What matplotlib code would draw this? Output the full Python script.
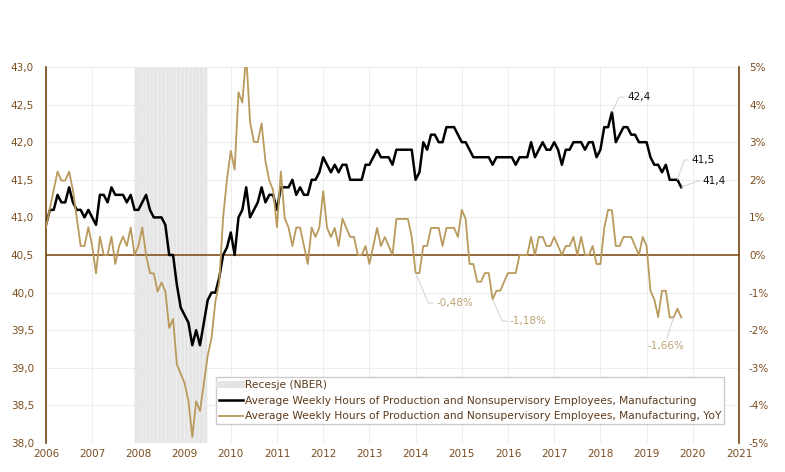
import matplotlib

matplotlib.use("Agg")

import matplotlib.pyplot as plt  # noqa: E402
import numpy as np  # noqa: E402
from matplotlib.lines import Line2D  # noqa: E402
from matplotlib.ticker import FuncFormatter  # noqa: E402

# monthly data, Jan 2006 .. Oct 2019
START_YEAR = 2006
hours = [
    40.9, 41.1, 41.1, 41.3, 41.2, 41.2, 41.4, 41.2, 41.1, 41.1, 41.0, 41.1,  # 2006
    41.0, 40.9, 41.3, 41.3, 41.2, 41.4, 41.3, 41.3, 41.3, 41.2, 41.3, 41.1,  # 2007
    41.1, 41.2, 41.3, 41.1, 41.0, 41.0, 41.0, 40.9, 40.5, 40.5, 40.1, 39.8,  # 2008
    39.7, 39.6, 39.3, 39.5, 39.3, 39.6, 39.9, 40.0, 40.0, 40.2, 40.5, 40.6,  # 2009
    40.8, 40.5, 41.0, 41.1, 41.4, 41.0, 41.1, 41.2, 41.4, 41.2, 41.3, 41.3,  # 2010
    41.1, 41.4, 41.4, 41.4, 41.5, 41.3, 41.4, 41.3, 41.3, 41.5, 41.5, 41.6,  # 2011
    41.8, 41.7, 41.6, 41.7, 41.6, 41.7, 41.7, 41.5, 41.5, 41.5, 41.5, 41.7,  # 2012
    41.7, 41.8, 41.9, 41.8, 41.8, 41.8, 41.7, 41.9, 41.9, 41.9, 41.9, 41.9,  # 2013
    41.5, 41.6, 42.0, 41.9, 42.1, 42.1, 42.0, 42.0, 42.2, 42.2, 42.2, 42.1,  # 2014
    42.0, 42.0, 41.9, 41.8, 41.8, 41.8, 41.8, 41.8, 41.7, 41.8, 41.8, 41.8,  # 2015
    41.8, 41.8, 41.7, 41.8, 41.8, 41.8, 42.0, 41.8, 41.9, 42.0, 41.9, 41.9,  # 2016
    42.0, 41.9, 41.7, 41.9, 41.9, 42.0, 42.0, 42.0, 41.9, 42.0, 42.0, 41.8,  # 2017
    41.9, 42.2, 42.2, 42.4, 42.0, 42.1, 42.2, 42.2, 42.1, 42.1, 42.0, 42.0,  # 2018
    42.0, 41.8, 41.7, 41.7, 41.6, 41.7, 41.5, 41.5, 41.5, 41.4,              # 2019
]
yoy = [
    0.74, 1.23, 1.72, 2.22, 1.98, 1.98, 2.22, 1.72, 0.98, 0.24, 0.24, 0.74,
    0.24, -0.49, 0.49, 0.00, 0.00, 0.49, -0.24, 0.24, 0.49, 0.24, 0.73, 0.00,
    0.24, 0.73, 0.00, -0.48, -0.49, -0.97, -0.73, -0.97, -1.94, -1.70, -2.91, -3.16,
    -3.41, -3.88, -4.84, -3.89, -4.15, -3.41, -2.68, -2.20, -1.23, -0.74, 1.00, 2.01,
    2.77, 2.27, 4.33, 4.05, 5.34, 3.54, 3.01, 3.00, 3.50, 2.49, 1.98, 1.72,
    0.74, 2.22, 0.98, 0.73, 0.24, 0.73, 0.73, 0.24, -0.24, 0.73, 0.48, 0.73,
    1.70, 0.72, 0.48, 0.72, 0.24, 0.97, 0.72, 0.48, 0.48, 0.00, 0.00, 0.24,
    -0.24, 0.24, 0.72, 0.24, 0.48, 0.24, 0.00, 0.96, 0.96, 0.96, 0.96, 0.48,
    -0.48, -0.48, 0.24, 0.24, 0.72, 0.72, 0.72, 0.24, 0.72, 0.72, 0.72, 0.48,
    1.20, 0.96, -0.24, -0.24, -0.71, -0.71, -0.48, -0.48, -1.18, -0.95, -0.95, -0.71,
    -0.48, -0.48, -0.48, 0.00, 0.00, 0.00, 0.48, 0.00, 0.48, 0.48, 0.24, 0.24,
    0.48, 0.24, 0.00, 0.24, 0.24, 0.48, 0.00, 0.48, 0.00, 0.00, 0.24, -0.24,
    -0.24, 0.72, 1.20, 1.19, 0.24, 0.24, 0.48, 0.48, 0.48, 0.24, 0.00, 0.48,
    0.24, -0.95, -1.18, -1.65, -0.95, -0.95, -1.66, -1.66, -1.43, -1.66,
]
recession_start = 2007 + 11 / 12  # Dec 2007
recession_months = 19             # .. Jun 2009
year_ticks = list(range(2006, 2022))
hours_ticks = [38.0, 38.5, 39.0, 39.5, 40.0, 40.5, 41.0, 41.5, 42.0, 42.5, 43.0]
pct_ticks = [-5, -4, -3, -2, -1, 0, 1, 2, 3, 4, 5]

label_hours = "Average Weekly Hours of Production and Nonsupervisory Employees, Manufacturing"
label_yoy = label_hours + ", YoY"

BROWN = "#7a4310"
TICK = "#7c4d1f"
TEXT = "#5c3a1c"
GOLD = "#b99a5c"
GOLD_TEXT = "#bda474"
GRID = "#ededed"
LEADER = "#d2d2d2"
FS = 7.5

months = START_YEAR + np.arange(len(hours)) / 12
rec_x = recession_start + np.arange(recession_months) / 12

fig = plt.figure(figsize=(7.85, 4.72), dpi=100)
ax = fig.add_axes([46 / 785, 29 / 472, 693 / 785, 376 / 472])
ax2 = ax.twinx()

# hours axis (left)
ax.set_axisbelow(True)
ax.grid(True, color=GRID, lw=0.8)
rec_bars = ax.bar(rec_x, [5] * recession_months, width=0.92 / 12, bottom=38.0,
                  align="edge", color="#e6e6e6", lw=0, zorder=1)
for bar in rec_bars:
    bar.set_snap(False)
ax.axhline(40.5, color=BROWN, lw=1.1, zorder=2)
ax.plot(months, hours, color="black", lw=1.8, zorder=3)
ax.set_xlim(2006, 2021)
ax.set_ylim(38, 43)
ax.set_xticks(year_ticks)
ax.set_yticks(hours_ticks)
ax.yaxis.set_major_formatter(FuncFormatter(lambda v, _: f"{v:.1f}".replace(".", ",")))
ax.tick_params(axis="y", length=0, pad=8.6, labelsize=FS, labelcolor=TICK)
ax.tick_params(axis="x", length=0, pad=4.5, labelsize=FS, labelcolor=TICK)
for side in ("top", "right", "bottom"):
    ax.spines[side].set_visible(False)
ax.spines["left"].set_color(BROWN)
ax.spines["left"].set_linewidth(1.2)

# percent axis (right)
ax2.plot(months, yoy, color=GOLD, lw=1.3, zorder=3)
ax2.set_ylim(-5, 5)
ax2.set_yticks(pct_ticks)
ax2.yaxis.set_major_formatter(FuncFormatter(lambda v, _: f"{int(round(v))}%"))
ax2.tick_params(axis="y", length=0, pad=7.2, labelsize=FS, labelcolor=TICK)
for side in ("top", "left", "bottom"):
    ax2.spines[side].set_visible(False)
ax2.spines["right"].set_color(BROWN)
ax2.spines["right"].set_linewidth(1.2)


def leader(axis, idx, series, text, color, dx, dy, angle):
    axis.annotate(
        text, xy=(months[idx], series[idx]), xytext=(dx, dy),
        textcoords="offset points", ha="left", va="center", fontsize=FS, color=color,
        arrowprops=dict(arrowstyle="-", color=LEADER, lw=0.7, shrinkA=0, shrinkB=0,
                        relpos=(0, 0.5),
                        connectionstyle=f"angle,angleA=0,angleB={angle},rad=0"),
    )


i_peak = int(np.argmax(hours))
leader(ax, i_peak, hours, "42,4", "#111111", 10.8, 10.8, 65)
leader(ax, len(hours) - 2, hours, "41,5", "#111111", 9.8, 14.3, 71)
leader(ax, len(hours) - 1, hours, "41,4", "#111111", 15.6, 4.5, 21)
leader(ax2, 96, yoy, "-0,48%", GOLD_TEXT, 14.7, -21.6, -67)
leader(ax2, 116, yoy, "-1,18%", GOLD_TEXT, 12.5, -15.6, -66)
ax2.annotate(
    "-1,66%", xy=(months[-3], yoy[-3]), xytext=(-5.5, -20.9),
    textcoords="offset points", ha="center", va="center", fontsize=FS, color=GOLD_TEXT,
    arrowprops=dict(arrowstyle="-", color=LEADER, lw=0.7, shrinkA=0, shrinkB=0,
                    relpos=(0.5, 1)),
)

handles = [
    Line2D([], [], color="#e4e4e4", lw=5),
    Line2D([], [], color="black", lw=1.8),
    Line2D([], [], color=GOLD, lw=1.3),
]
leg = ax2.legend(
    handles, ["Recesje (NBER)", label_hours, label_yoy],
    loc="upper left", bbox_to_anchor=((216 - 46) / 693, (443 - 377) / 376),
    borderaxespad=0, fontsize=7.65, labelcolor=TEXT, frameon=True, fancybox=False,
    edgecolor="#cccccc", framealpha=1, handlelength=2.2, handletextpad=0.2,
    labelspacing=0.52, borderpad=0.3,
)
leg.get_frame().set_linewidth(1.0)

fig.savefig("out.png", dpi=100)
